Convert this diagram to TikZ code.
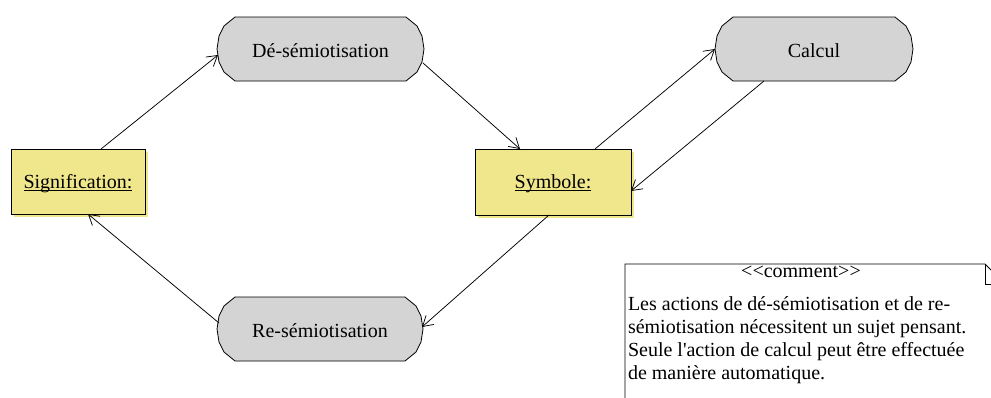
\documentclass[tikz,border=0pt]{standalone}
\usepackage{fontspec}
\setmainfont{Liberation Serif}[Ligatures={TeXOff,CommonOff}]
\usetikzlibrary{arrows.meta,calc,shadows,backgrounds}
\definecolor{actgray}{RGB}{212,212,212}
\definecolor{clsyellow}{RGB}{240,230,140}
\newcommand\ulfix[1]{\setbox0\hbox{#1}\rlap{\rule[-2.6pt]{\wd0}{0.9pt}}\box0}
\newcommand\actoutline[2]{%
  \path[#2] let \p1=(#1.north west), \p2=(#1.south east) in
    (\x1+18pt,\y1) -- (\x2-18pt,\y1) -- (\x2-7pt,\y1-9pt) -- (\x2-2pt,\y1-19pt)
    -- (\x2,\y1-32pt) -- (\x2-2pt,\y2+19pt) -- (\x2-7pt,\y2+9pt) -- (\x2-18pt,\y2)
    -- (\x1+18pt,\y2) -- (\x1+7pt,\y2+9pt) -- (\x1+2pt,\y2+19pt) -- (\x1,\y2+32pt)
    -- (\x1+2pt,\y1-19pt) -- (\x1+7pt,\y1-9pt) -- cycle;}
\begin{document}
\begin{tikzpicture}[x=1pt,y=-1pt,
  font=\fontsize{20}{23}\selectfont,
  actnode/.style={minimum width=#1, minimum height=64pt, inner sep=0pt, outer sep=0pt,
    text height=17pt, text depth=0pt},
  clsnode/.style={draw=black, line width=0.8pt, fill=clsyellow, inner sep=0pt, outer sep=0pt,
    text height=13pt, text depth=0pt,
    drop shadow={shadow xshift=2.5pt, shadow yshift=-2.5pt, fill=clsyellow, opacity=1}},
  actfill/.style={fill=actgray},
  actdraw/.style={fill=actgray, draw=black, line width=0.8pt},
  flow/.style={draw=black, line width=0.75pt, -{Straight Barb[length=10pt,width=12pt,line width=0.75pt]}},
  notetext/.style={inner sep=0pt, outer sep=0pt, anchor=base west},
  notebox/.style={draw=black, line width=0.8pt, fill=white}]
\useasboundingbox (0,0) rectangle (991,397);
\clip (0,0) rectangle (991,397);

% action states
\node[actnode=207pt] (des) at (320.5,49) {Dé-sémiotisation};
\node[actnode=198pt] (calc) at (814,49) {Calcul};
\node[actnode=206pt] (re) at (320,329) {Re-sémiotisation};
\begin{scope}[on background layer]
  \begin{scope}[xshift=3pt,yshift=-3pt]
    \actoutline{des}{actfill}
    \actoutline{calc}{actfill}
    \actoutline{re}{actfill}
  \end{scope}
  \actoutline{des}{actdraw}
  \actoutline{calc}{actdraw}
  \actoutline{re}{actdraw}
\end{scope}

% objects
\node[clsnode, minimum width=134pt, minimum height=65pt] (sig) at (78,181.5) {\ulfix{Signification:}};
\node[clsnode, minimum width=156pt, minimum height=66pt] (sym) at (553,182) {\ulfix{Symbole:}};

% connectors
\draw[flow] ($(sig.north west)+(90,0)$) -- ($(des.west)+(1,6)$);
\draw[flow] ($(des.east)+(-1,14)$) -- ($(sym.north west)+(45,0)$);
\draw[flow] ($(sym.north west)+(120,0)$) -- (calc.west);
\draw[flow] ($(calc.south west)+(49,0)$) -- ($(sym.east)+(0,9)$);
\draw[flow] ($(sym.south west)+(74,0)$) -- ($(re.east)+(-1,-2)$);
\draw[flow] ($(re.west)+(2,-6)$) -- ($(sig.south west)+(77,0)$);

% comment note
\draw[notebox] (625,264) -- (985,264) -- (1005,284) -- (1005,420) -- (625,420) -- cycle;
\draw[line width=0.8pt] (985,264) -- (985,284) -- (1005,284);
\node[inner sep=0pt, outer sep=0pt, anchor=base] (notehead) at (801,277) {<<comment>>};
\node[notetext] (note1) at (628,310) {Les actions de dé-sémiotisation et de re-};
\node[notetext] (note2) at (628,333) {sémiotisation nécessitent un sujet pensant.};
\node[notetext] (note3) at (628,356) {Seule l'action de calcul peut être effectuée};
\node[notetext] (note4) at (628,379) {de manière automatique.};
\end{tikzpicture}
\end{document}
